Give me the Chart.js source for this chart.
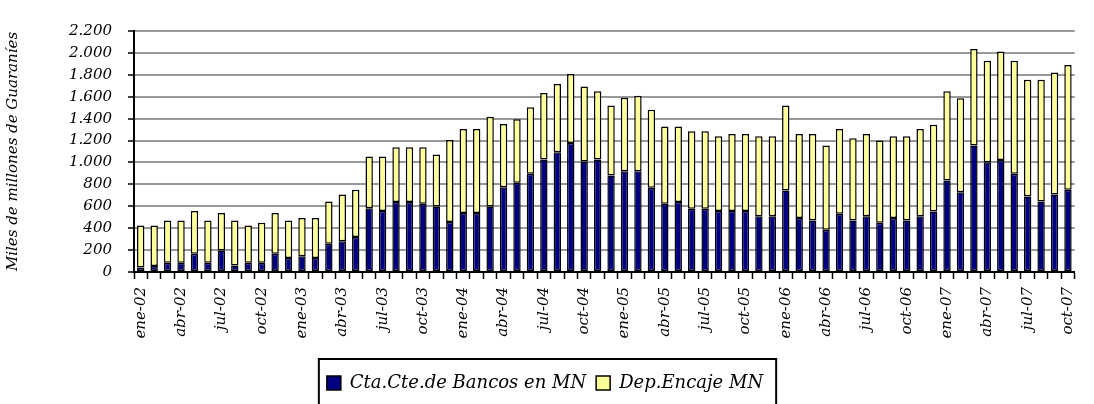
<!DOCTYPE html>
<html>
<head>
<meta charset="utf-8">
<script src="https://cdn.jsdelivr.net/npm/chart.js@4/dist/chart.umd.min.js"></script>
<style>
  html, body { margin: 0; padding: 0; background: #ffffff; }
  #wrap { width: 1094px; height: 404px; }
</style>
</head>
<body>
<div id="wrap"><canvas id="c" width="1094" height="404"></canvas></div>
<script>
const months = ['ene','feb','mar','abr','may','jun','jul','ago','sep','oct','nov','dic'];
const years = ['02','03','04','05','06','07'];
const monthCount = 70;
const categories = [];
for (let i = 0; i < monthCount; i++) {
  categories.push(months[i % 12] + '-' + years[Math.floor(i / 12)]);
}

const seriesNames = ['Cta.Cte.de Bancos en MN', 'Dep.Encaje MN'];

const ctaCteBancos = [
  40, 55, 85, 85, 167, 85, 197, 60, 85, 85,
  167, 128, 143, 128, 258, 280, 319, 583, 556, 638,
  638, 623, 598, 456, 538, 538, 598, 774, 814, 896,
  1026, 1093, 1178, 1008, 1026, 881, 920, 920, 768, 623,
  638, 577, 577, 556, 556, 556, 510, 510, 744, 492,
  471, 386, 532, 471, 510, 449, 492, 471, 510, 553,
  835, 729, 1154, 1002, 1023, 896, 689, 644, 708, 750
];

const depEncaje = [
  385, 370, 385, 385, 389, 385, 341, 410, 340, 365,
  371, 342, 349, 364, 386, 428, 431, 471, 498, 501,
  501, 516, 474, 750, 768, 768, 820, 577, 580, 607,
  608, 623, 629, 686, 623, 638, 670, 688, 712, 706,
  691, 708, 708, 683, 704, 704, 729, 729, 775, 768,
  789, 768, 774, 750, 750, 751, 747, 768, 796, 792,
  814, 856, 881, 926, 990, 1032, 1066, 1111, 1114, 1139
];

const yTicks = [0, 200, 400, 600, 800, 1000, 1200, 1400, 1600, 1800, 2000, 2200];
const yTitle = 'Miles de millones de Guaraníes';

const FONT = "'DejaVu Serif', 'Liberation Serif', serif";

function fmt(v) {
  return String(v).replace(/\B(?=(\d{3})+(?!\d))/g, '.');
}

const legendFrame = {
  id: 'legendFrame',
  afterDraw(chart) {
    const lg = chart.legend;
    if (!lg || !lg.legendHitBoxes || !lg.legendHitBoxes.length) return;
    const hb = lg.legendHitBoxes;
    const first = hb[0], last = hb[hb.length - 1];
    const left = first.left - 8;
    const right = last.left + last.width + 13;
    const top = first.top - 15;
    const ctx = chart.ctx;
    ctx.save();
    ctx.strokeStyle = '#000';
    ctx.lineWidth = 2;
    ctx.strokeRect(left, top, right - left, chart.height - top + 5);
    ctx.restore();
  }
};

new Chart(document.getElementById('c'), {
  type: 'bar',
  data: {
    labels: categories,
    datasets: [
      {
        label: seriesNames[0],
        data: ctaCteBancos,
        backgroundColor: '#000080',
        borderColor: '#000000',
        borderWidth: 1.5,
        borderSkipped: false,
        barPercentage: 0.55,
        categoryPercentage: 1.0
      },
      {
        label: seriesNames[1],
        data: depEncaje,
        backgroundColor: '#FFFF99',
        borderColor: '#000000',
        borderWidth: 1.5,
        borderSkipped: false,
        barPercentage: 0.55,
        categoryPercentage: 1.0
      }
    ]
  },
  options: {
    responsive: false,
    animation: false,
    devicePixelRatio: 1,
    layout: { padding: { left: 0, right: 4, top: 31, bottom: 2 } },
    plugins: {
      tooltip: { enabled: false },
      legend: {
        display: true,
        position: 'bottom',
        labels: {
          boxWidth: 14,
          boxHeight: 14,
          padding: 10,
          color: '#000',
          font: { family: FONT, size: 18, style: 'italic' }
        }
      }
    },
    scales: {
      x: {
        stacked: true,
        offset: true,
        afterFit(s) { s.height = 92; },
        grid: {
          display: true,
          drawOnChartArea: false,
          offset: true,
          tickLength: 7,
          tickColor: '#000',
          tickWidth: 1.5
        },
        border: { display: true, color: '#000', width: 2 },
        ticks: {
          autoSkip: false,
          minRotation: 90,
          maxRotation: 90,
          padding: 8,
          color: '#000',
          font: { family: FONT, size: 15, style: 'italic' },
          callback(v, i) { return i % 3 === 0 ? categories[i] : ''; }
        }
      },
      y: {
        stacked: true,
        min: yTicks[0],
        max: yTicks[yTicks.length - 1],
        afterFit(s) { s.width = 134; },
        afterBuildTicks(s) { s.ticks = yTicks.map(v => ({ value: v })); },
        grid: {
          display: true,
          color: (c) => (c.tick && c.tick.value === 0) ? 'rgba(0,0,0,0)' : '#999999',
          lineWidth: 2,
          borderDash: [6, 9],
          tickLength: 6,
          tickColor: '#000',
          tickWidth: 1.5,
          tickBorderDash: []
        },
        border: { display: true, color: '#000', width: 2, dash: [] },
        ticks: {
          padding: 16,
          color: '#000',
          font: { family: FONT, size: 15, style: 'italic' },
          callback(v) { return fmt(v); }
        },
        title: {
          display: true,
          text: yTitle,
          color: '#000',
          padding: { top: 4, bottom: 0 },
          font: { family: FONT, size: 15, style: 'italic' }
        }
      }
    }
  },
  plugins: [legendFrame]
});
</script>
</body>
</html>
